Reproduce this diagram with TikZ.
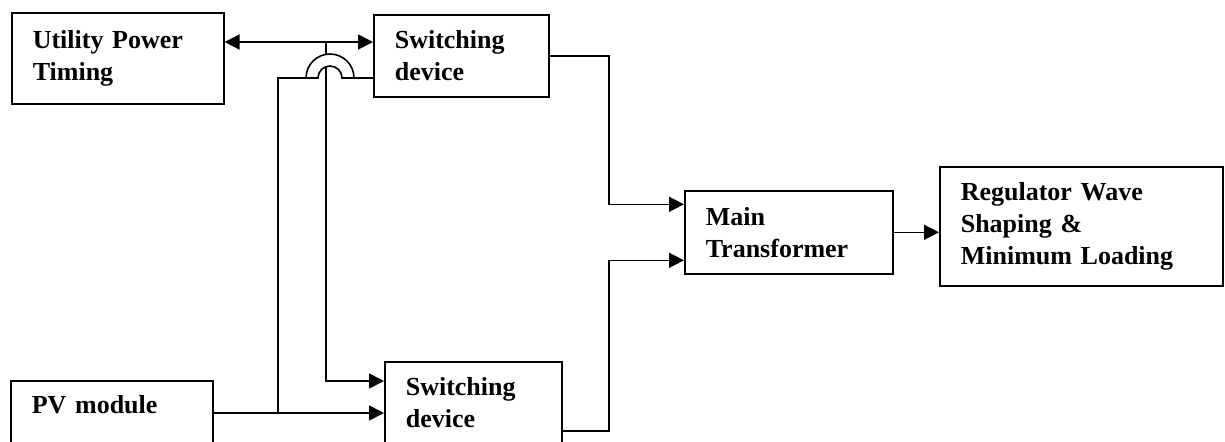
\documentclass[tikz,border=0pt]{standalone}
\usepackage{fontspec}
\setmainfont{Liberation Serif}
\usetikzlibrary{arrows.meta}

\begin{document}
\begin{tikzpicture}[x=.5pt, y=-.5pt, line width=.8pt, >={Triangle[length=7.5pt,width=7.5pt]},
  blk/.style={draw, anchor=north west, align=left, inner xsep=10.5pt, inner ysep=0pt,
    font=\fontsize{13}{15.8}\selectfont\bfseries}]
\useasboundingbox (0,0) rectangle (1225,441);
\clip (0,0) rectangle (1225,441);

\node[blk, text width=85pt, minimum height=45.5pt] (util) at (11,12) {Utility Power\\Timing};
\node[blk, text width=66.5pt, minimum height=41pt] (sw1) at (373,14) {Switching\\device};
\node[blk, text width=83pt, minimum height=41.5pt] (main) at (684,190) {Main\\Transformer};
\node[blk, text width=120.5pt, minimum height=59.5pt] (reg) at (939,166) {Regulator Wave\\Shaping \&\\Minimum Loading};
\node[blk, text width=80pt, inner ysep=7.5pt, text depth=40pt] (pv) at (10,380) {PV module};
\node[blk, text width=67.5pt, inner ysep=8pt, text depth=40pt] (sw2) at (384,361) {Switching\\device};

\coordinate (tap) at (326,42);
\coordinate (in1) at (326,381);
\coordinate (fork) at (278,413);
\coordinate (hl) at (318,78);
\coordinate (hr) at (342,78);
\coordinate (mx) at (609,0);
\coordinate (mainin1) at ([yshift=14pt]main.west);
\coordinate (mainin2) at ([yshift=-14pt]main.west);

\draw[<->] (util.east |- tap) -- (sw1.west |- tap);
\draw[->] (tap) -- (in1) -- (sw2.west |- in1);
\draw[->] (pv.east |- fork) -- (sw2.west |- fork);
\draw (fork) |- (hl);
\draw (hr) -- (sw1.west |- hr);
\draw[fill=white] (306,78) arc[start angle=180, end angle=360, radius=24] -- (hr)
  arc[start angle=360, end angle=180, radius=12] -- cycle;

\draw[->] (sw1.east) -| (mx |- mainin1) -- (mainin1);
\draw[->] ([yshift=-35pt]sw2.north east) -| (mx |- mainin2) -- (mainin2);
\draw[->] (main.east) -- (main.east -| reg.west);
\end{tikzpicture}
\end{document}
